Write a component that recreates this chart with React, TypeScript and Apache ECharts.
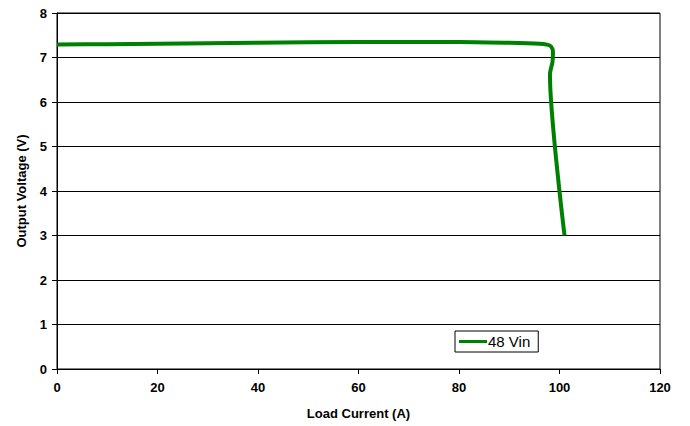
import React, { useEffect, useRef } from "react";
import * as echarts from "echarts";

const seriesName = "48 Vin";
const loadCurrent = [0, 10, 20, 40, 60, 80, 90, 96, 97.5, 98.3, 98.7, 98.6, 98.1, 101];
const outputVoltage = [7.29, 7.3, 7.31, 7.33, 7.35, 7.35, 7.33, 7.31, 7.29, 7.25, 7.12, 6.9, 6.62, 3.0];
const xTicks = [0, 20, 40, 60, 80, 100, 120];
const yTicks = [0, 1, 2, 3, 4, 5, 6, 7, 8];

export default function App() {
  const ref = useRef<HTMLDivElement>(null);
  useEffect(() => {
    const chart = echarts.init(ref.current!, null, { renderer: "svg" });
    const font = "Liberation Sans, Arial, sans-serif";
    chart.setOption({
      animation: false,
      backgroundColor: "#ffffff",
      grid: { left: 57, top: 13, right: 30, bottom: 57, show: true, borderColor: "#000", borderWidth: 1 },
      xAxis: {
        type: "value",
        min: xTicks[0],
        max: xTicks[xTicks.length - 1],
        interval: 20,
        name: "Load Current (A)",
        nameLocation: "middle",
        nameGap: 38,
        nameTextStyle: { fontFamily: font, fontWeight: "bold", fontSize: 13, color: "#000" },
        axisLine: { lineStyle: { color: "#000", width: 1 } },
        axisTick: { show: true, inside: false, length: 5, lineStyle: { color: "#000" } },
        axisLabel: { fontFamily: font, fontWeight: "bold", fontSize: 13, color: "#000", margin: 12 },
        splitLine: { show: false },
      },
      yAxis: {
        type: "value",
        min: yTicks[0],
        max: yTicks[yTicks.length - 1],
        interval: 1,
        name: "Output Voltage (V)",
        nameLocation: "middle",
        nameGap: 29,
        nameRotate: 90,
        nameTextStyle: { fontFamily: font, fontWeight: "bold", fontSize: 13, color: "#000" },
        axisLine: { lineStyle: { color: "#000", width: 1 } },
        axisTick: { show: true, inside: false, length: 5, lineStyle: { color: "#000" } },
        axisLabel: { fontFamily: font, fontWeight: "bold", fontSize: 13, color: "#000", margin: 10 },
        splitLine: { show: true, lineStyle: { color: "#000", width: 1 } },
      },
      legend: {
        left: 455,
        top: 331,
        orient: "horizontal",
        backgroundColor: "#fff",
        borderColor: "#000",
        borderWidth: 1,
        padding: [3, 8, 3, 4],
        icon: "rect",
        itemWidth: 28,
        itemHeight: 3,
        itemGap: 2,
        textStyle: { fontFamily: font, fontSize: 15, color: "#000", padding: [0, 0, 0, -4] },
        data: [seriesName],
      },
      series: [
        {
          name: seriesName,
          type: "line",
          data: loadCurrent.map((x, i) => [x, outputVoltage[i]]),
          smooth: 0.25,
          showSymbol: false,
          symbol: "none",
          color: "#008000",
          lineStyle: { color: "#008000", width: 4 },
        },
      ],
    });
    return () => chart.dispose();
  }, []);
  return (
    <div
      ref={ref}
      style={{ position: "fixed", left: 0, top: 0, width: 690, height: 426, background: "#fff" }}
    />
  );
}
